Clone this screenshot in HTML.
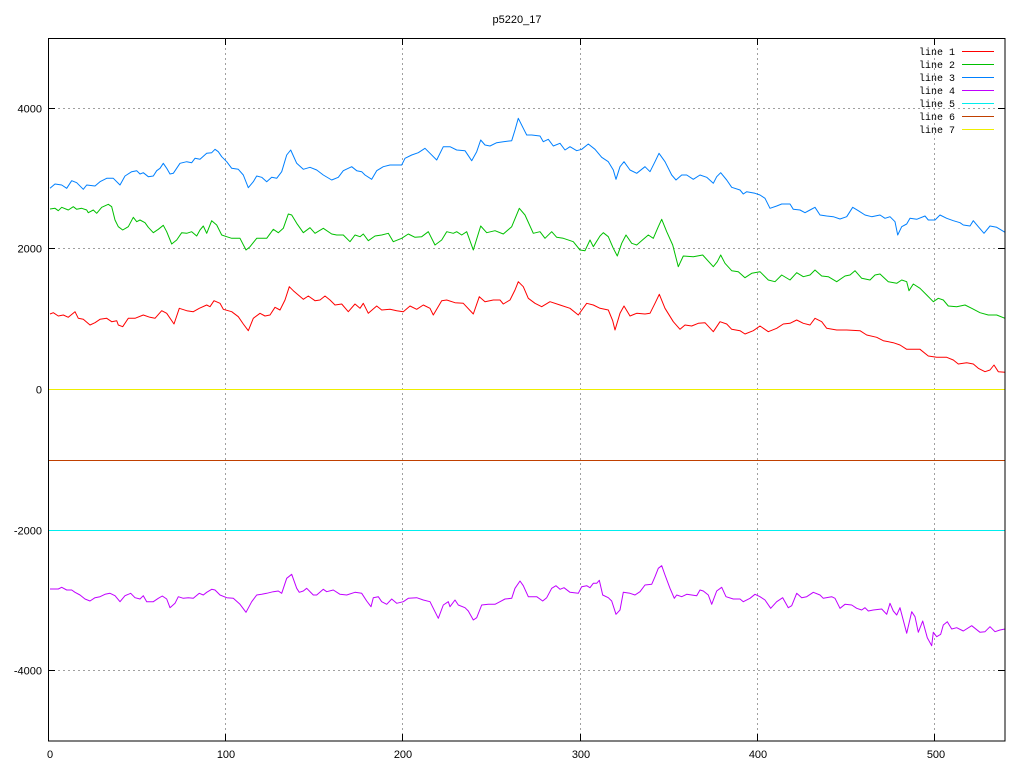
<!DOCTYPE html>
<html><head><meta charset="utf-8"><style>
html,body{margin:0;padding:0;background:#fff;}
svg{display:block;}
text{font-family:"Liberation Sans",sans-serif;font-size:11px;fill:#000;}
.lg{font-family:"Liberation Mono",monospace;font-size:10px;}
</style></head><body>
<svg width="1024" height="768" viewBox="0 0 1024 768" xmlns="http://www.w3.org/2000/svg">
<rect width="1024" height="768" fill="#fff"/>
<text x="517" y="23" text-anchor="middle">p5220_17</text>
<g stroke="#a0a0a0" stroke-width="1" stroke-dasharray="2,3" fill="none">
<line x1="225.5" y1="38" x2="225.5" y2="741"/>
<line x1="402.5" y1="38" x2="402.5" y2="741"/>
<line x1="580.5" y1="38" x2="580.5" y2="741"/>
<line x1="757.5" y1="38" x2="757.5" y2="741"/>
<line x1="934.5" y1="38" x2="934.5" y2="741"/>
<line x1="48" y1="108.5" x2="1005" y2="108.5"/>
<line x1="48" y1="248.5" x2="1005" y2="248.5"/>
<line x1="48" y1="389.5" x2="1005" y2="389.5"/>
<line x1="48" y1="530.5" x2="1005" y2="530.5"/>
<line x1="48" y1="670.5" x2="1005" y2="670.5"/>
</g>
<g stroke="#000" stroke-width="1">
<line x1="48" y1="108.5" x2="55" y2="108.5"/><line x1="998" y1="108.5" x2="1005" y2="108.5"/>
<line x1="48" y1="248.5" x2="55" y2="248.5"/><line x1="998" y1="248.5" x2="1005" y2="248.5"/>
<line x1="48" y1="389.5" x2="55" y2="389.5"/><line x1="998" y1="389.5" x2="1005" y2="389.5"/>
<line x1="48" y1="530.5" x2="55" y2="530.5"/><line x1="998" y1="530.5" x2="1005" y2="530.5"/>
<line x1="48" y1="670.5" x2="55" y2="670.5"/><line x1="998" y1="670.5" x2="1005" y2="670.5"/>
<line x1="225.5" y1="38" x2="225.5" y2="45"/><line x1="225.5" y1="734" x2="225.5" y2="741"/>
<line x1="402.5" y1="38" x2="402.5" y2="45"/><line x1="402.5" y1="734" x2="402.5" y2="741"/>
<line x1="580.5" y1="38" x2="580.5" y2="45"/><line x1="580.5" y1="734" x2="580.5" y2="741"/>
<line x1="757.5" y1="38" x2="757.5" y2="45"/><line x1="757.5" y1="734" x2="757.5" y2="741"/>
<line x1="934.5" y1="38" x2="934.5" y2="45"/><line x1="934.5" y1="734" x2="934.5" y2="741"/>
</g>
<g text-anchor="end">
<text x="42" y="112.5">4000</text>
<text x="42" y="252.5">2000</text>
<text x="42" y="393.5">0</text>
<text x="42" y="534.5">-2000</text>
<text x="42" y="674.5">-4000</text>
</g>
<g text-anchor="middle">
<text x="50" y="758">0</text>
<text x="226" y="758">100</text>
<text x="403" y="758">200</text>
<text x="581" y="758">300</text>
<text x="758" y="758">400</text>
<text x="936" y="758">500</text>
</g>
<g fill="none" stroke-width="1" stroke-linejoin="round">
<!-- line 7 yellow at 0 -->
<line x1="48" y1="389.5" x2="1005" y2="389.5" stroke="#eeee00"/>
<!-- line 6 at -1000 -->
<line x1="48" y1="460.5" x2="1005" y2="460.5" stroke="#c04000"/>
<!-- line 5 at -2000 -->
<line x1="48" y1="530.5" x2="1005" y2="530.5" stroke="#00eeee"/>
<!-- line 3 blue -->
<polyline stroke="#0080ff" points="50,188.3 55,184 61.7,185 66.7,188.3 71.7,180.7 76.7,182.7 83.3,189.3 86.7,185 95,186 100,181.7 106.7,178.3 113.3,178.3 120,185 125,176 131.7,171.7 136.7,170.7 140,174 143.3,172.7 148.3,176.7 153.3,176 156.7,170.7 160,168.3 163.3,163.3 166.7,168.3 170,174 173.3,173.3 180,163.3 186.7,161.7 191.7,162.7 195,158.3 200,159.3 206.7,153.3 211.7,152.7 215,149.3 218.3,151.7 221.7,156.7 226.7,161.7 231.7,168.3 238.3,169.3 243.3,175 248.3,187.7 253.3,181.7 256.7,176 261.7,177.3 266.7,181.7 271.7,177.3 276.7,178.3 281.7,171.7 286.7,155 290.7,150 296.7,163.3 303.3,169.3 310,167.3 316.7,170 323.3,175 331.7,180 338.3,177.3 343.3,170.7 351.7,166.7 356.7,170.7 361.7,171.7 365,175 371.7,179.3 376.7,170.7 383.3,166.7 390,165 396.7,165 401.7,165 405,158.3 411.7,155 418.3,152.7 425,148.3 430,153.3 436.7,160 443.3,146.7 450,146.7 456.7,150 465,150.7 471.7,160.7 476.7,151.7 480.7,140 485,145 490,146 496.7,142.7 503.3,141.7 511.7,140.7 515,130 518.3,118.3 523.3,128.3 526.7,135 531.7,135 540,136 543.3,141.7 548.3,139.3 553.3,146 560,143.3 565,150 570,146.7 576.7,150.7 581.7,149.3 588.3,144 595,149.3 601.7,157.3 608.3,161.7 613.3,170 616,179.3 620,166.7 624,161.7 630,170 636.7,173.3 645,166.7 650,171.7 655,161.7 659,153.3 665,161.7 671.7,175 676,180 681.7,175 686.7,175 693.3,179.3 700,175 706.7,177.3 713.3,183.3 716.7,176.7 720.7,172.7 726.7,180 731.7,187.3 740,190 743.3,194 746.7,191.7 755,193.3 760,195 765,198.3 770,208.3 776.7,206 781.7,204 790,204 793.3,209.3 800,210 805,212.7 810,210 815,207.3 820,215 826.7,216 833.3,216.7 840,219 846.7,216.7 852.7,207.3 858.3,210.7 865,215 871.7,216.7 880,215 885,218.3 890,216.7 895,221.7 897.7,235 901.7,226.7 906.7,224 910,218.3 916.7,219.3 925,216 928.3,220 935,220 940,215 946.7,218.3 953.3,220.7 960,222.7 963.3,225 970,226 973.3,220.7 978.3,226.7 984,233.3 990,226 996.7,227.3 1005,232.3"/>
<!-- line 2 green -->
<polyline stroke="#00c000" points="50,209 55,208.3 58.3,210.7 61.7,207.3 68.3,210 73.3,206.7 76.7,209.3 81.7,208.3 86.7,210 88.3,212.7 93.3,210 96.7,213.3 101.7,207.3 108.3,204.3 111.7,206.7 115,220 118.3,226.7 122.7,230 128.3,226.7 133.3,217.3 136.7,221.7 140,220 145,222.7 148.3,227.3 153.3,232.7 158.3,229.3 163.3,225.3 166.7,231.7 171.7,244 176.7,240 181.7,232.7 186.7,233.3 191.7,231.7 196.7,236 200,230 203.3,226 206.7,233.3 211.7,220.7 216.7,225 221.7,235 226.7,236.7 231.7,238.3 240,238.3 246,250 250,246.7 256.7,238.3 266.7,238.3 273.3,229.3 278.3,232.7 283.3,228.3 288.3,214 291.7,215 296.7,223.3 303.3,232.7 310,227.7 315,233.3 323.3,228.3 331.7,234 336.7,235 343.3,235 350,241.7 355,235 360,236.7 363.3,234 368.3,240.7 375,236 381.7,235 388.3,233.3 393.3,241.7 401.7,238.3 408.3,234 415,237.3 421.7,236.7 428.3,231.7 435,245 441.7,240 446.7,231.7 453.3,233.3 456.7,231.7 461.7,235 466.7,231.7 473.3,250 480.7,226 486.7,232.7 495,230.7 503.3,234 511.7,226.7 519.3,208.3 525,215 533.3,233.3 540,231.7 545,238.3 551.7,231.7 556.7,237.3 563.3,238.3 573.3,241.7 580,250 585,250.7 590,240 593.3,246.7 600,236 603.3,232.7 608.3,236.7 613.3,248.3 617.3,256 621.7,243.3 626,235 631.7,243.3 636.7,245 643.3,239.3 648.3,235 653.3,238.3 658.3,226.7 661.7,219.3 666.7,231.7 672.7,245 678.3,266.7 683.3,256 693.3,256.7 702.7,255 713.3,266.7 717.3,261.7 720.7,255 725,263.3 731.7,270.7 738.3,271.7 745,277.7 751.7,273.3 760,271.7 768.3,280 775,281.7 781.7,275 790,280 796.7,272.7 803.3,276.7 810,275 815,270 821.7,276 828.3,276.7 836.7,281.7 845,276 850,275 855,270.7 861.7,278.3 870,280 875,275 880,274 888.3,281.7 896.7,283.3 901.7,280 906.7,281.7 909,290.7 913.3,284 920,288.3 926.7,295 933.3,301.7 938.3,298.3 943.3,300 948.3,306 956.7,306.7 965,305 971.7,308.3 980,312.7 988.3,315 996.7,315 1005,318.3"/>
<!-- line 1 red -->
<polyline stroke="#ff0000" points="50,314 53.3,312.7 58.3,316 63.3,315 68.3,317.3 75,311.7 78.3,318.3 83.3,319.3 90,325 95,322.7 100,319.3 106.7,318.3 111.7,321.7 116.7,320.7 118.3,325 122.7,326.7 128.3,318.3 135,318.3 143.3,315 150,317.3 155,318.3 161.7,310.7 166.7,313.3 174,324 179.3,308.3 186.7,310.7 193.3,311.7 199.3,308.3 206.7,305 210,306.7 214,300.7 220,303.3 223.3,309.3 231.7,311.7 238.3,316.7 243.3,324 248.3,330.7 253.3,318.3 260,313.3 265,316 270,315 275,307.3 280,310 285,300 289.3,286.7 293.3,290.7 298.3,295 303.3,299.3 308.3,296 315,300.7 320,300 325,296 330,300 335,305 341.7,304 348.3,311.7 355,304 360,308.3 363.3,303.3 368.3,313.3 376.7,306 381.7,310 390,309.3 396.7,310.7 403.3,311.7 410,306 416.7,309.3 423.3,305 430,308.3 433.3,315 441.7,300.7 446.7,300 455,302.7 463.3,303.3 473.3,314 479.3,296.7 485,301.7 493.3,300 500,300 503.3,304 510,300 515,290 518.3,281.7 523.3,286.7 528.3,298.3 535,303.3 541.7,306.7 550,301.7 560,305 570,308.3 578.3,315 586.7,303.3 593.3,305 600,308.3 608.3,310 612.7,320.7 615,330 620,313.3 624,306 630,316 636.7,313.3 645,314 650,313.3 655,303.3 659.3,294.3 665,308.3 673.3,321.7 680,329.3 685,325 691.7,326 698.3,323.3 705,322.7 713.3,331.7 720,321.7 726.7,324 731.7,329.3 740,330.7 745,334 753.3,330.7 760,326 768.3,331.7 776.7,328.3 783.3,324 790,323.3 796.7,320 803.3,323.3 810,325 815,318.3 821.7,321.7 826.7,328.3 836.7,330 846.7,330 860,330.7 866.7,335 876.7,337.3 883.3,340.7 893.3,342.7 900,345 906.7,349.3 920,349.3 928.3,356 936.7,357.3 946.7,357.3 953.3,360 958.3,364 966.7,362.7 973.3,364 978.3,368.3 985,371.7 990,370 994,365 998.3,371.7 1005,372.3"/>
<!-- line 4 purple -->
<polyline stroke="#c000ff" points="50,589 58.3,589 61.7,587.3 66.7,590 71.7,590 75,592.3 80,595 85,599 90,601 95,597.7 100,596.7 105,594.3 110,593.3 115,595.7 120,601.7 125,595.7 130.7,593.3 135,597.7 140,599 143.3,595.7 146.7,601.7 153.3,601.7 158.3,598.3 162.3,596 166.7,599 170,607.7 175,603.3 178.3,596.7 183.3,598.3 188.3,597.7 193.3,598.3 199.3,593.3 203.3,595 206.7,592.3 211.7,589.3 215,590 220,595 226.7,597.7 233.3,598.3 240,604.3 246,612.3 251.7,601.7 256.7,595 261.7,594.3 266.7,593.3 273.3,591.7 278.3,591 281.7,593.3 286.7,578.3 291.7,574.3 296.7,588.3 299.3,592.3 303.3,591 306.7,588.3 313.3,595 316.7,595 323.3,589.3 326.7,591.7 333.3,590 340,594.3 346.7,595 355,592.3 361.7,593.3 366.7,601 371,606.7 373.3,597.7 378.3,596.7 381.7,601.7 386.7,604.3 391.7,599 396.7,603.3 403.3,601.7 408.3,598.3 416.7,597.7 423.3,600 430,601.7 433.3,608.3 438.3,618.3 443.3,605 448.3,601.7 450,606.7 455,600 458.3,605 465,607.7 468.3,611 473.3,620 476.7,617.7 481.7,605 488.3,604.3 495,604.3 500,601.7 505,599 511.7,598.3 515,588.3 520,581 523.3,585.7 528.3,596.7 536.7,596.7 542.7,601 546.7,597.7 551.7,588.3 556,585.7 560,589.3 564,587.7 570,592.3 578.3,593.3 581.7,586.7 586.7,585.7 590,587.7 593.3,583.3 596.7,583.3 599.3,580.3 602.7,595 608.3,597.7 611.7,601 616,614.3 620,610 623.3,592.3 630,593.3 635,595 640,591.7 645,585 651.7,584.3 655,576.7 658.3,568.3 661.7,565.7 665,575 670,588.3 674.3,598.3 676.7,595 681.7,596.7 686.7,594.3 691.7,595 696.7,595.7 700,590 703.3,591 708.3,595 711.7,604.3 716.7,591 721.7,587.3 726,596.7 733.3,599 740,599 743.3,601.7 750,598.3 755,594.3 760,596.7 765,600 770.7,608.3 776.7,601.7 782.7,597.7 788.3,607.7 791.7,605.7 796.7,593.3 801.7,597.7 806.7,596.7 813.3,592.3 820,595 823.3,598.3 831.7,596.7 835,598.3 840,608.3 845,604.3 851.7,605 856.7,608.3 861.7,610 865,607.7 868.3,611 873.3,610 881.7,609 886.7,614.3 890,603.3 893.3,611 896.7,615 900,607.7 906.7,633.3 911.7,611.7 915,616.7 918.3,632.3 922.7,621 927.3,637.7 931.7,645.7 933.3,632.3 936.7,636.7 940.7,634.3 943.3,625 947.3,621.7 951.7,629 956.7,627.7 963.3,631 971.7,625.7 980,632.3 985,631.7 990,626.7 995,631.7 1000,630 1005,629"/>
</g>
<rect x="48.5" y="38.5" width="956.5" height="702.5" fill="none" stroke="#000" stroke-width="1"/>
<g class="lg" text-anchor="end">
<text class="lg" x="955" y="55">line 1</text>
<text class="lg" x="955" y="68">line 2</text>
<text class="lg" x="955" y="81">line 3</text>
<text class="lg" x="955" y="94">line 4</text>
<text class="lg" x="955" y="107">line 5</text>
<text class="lg" x="955" y="120">line 6</text>
<text class="lg" x="955" y="133">line 7</text>
</g>
<g stroke-width="1">
<line x1="962" y1="51.5" x2="994" y2="51.5" stroke="#ff0000"/>
<line x1="962" y1="64.5" x2="994" y2="64.5" stroke="#00c000"/>
<line x1="962" y1="77.5" x2="994" y2="77.5" stroke="#0080ff"/>
<line x1="962" y1="90.5" x2="994" y2="90.5" stroke="#c000ff"/>
<line x1="962" y1="103.5" x2="994" y2="103.5" stroke="#00eeee"/>
<line x1="962" y1="116.5" x2="994" y2="116.5" stroke="#c04000"/>
<line x1="962" y1="129.5" x2="994" y2="129.5" stroke="#eeee00"/>
</g>
</svg>
</body></html>
